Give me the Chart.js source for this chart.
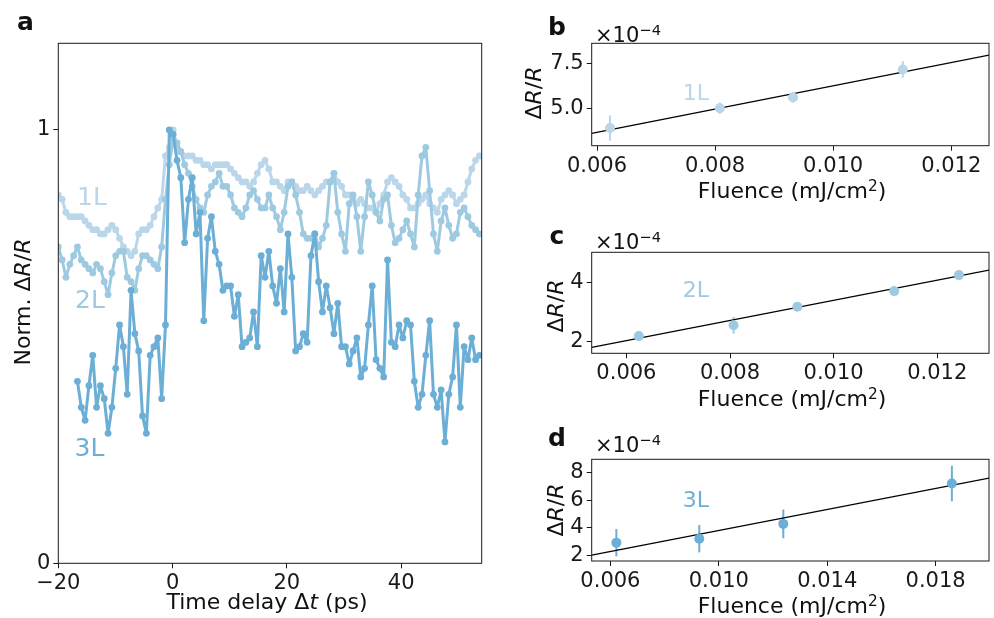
<!DOCTYPE html>
<html>
<head>
<meta charset="utf-8">
<script src="https://cdn.jsdelivr.net/npm/chart.js@4.4.1/dist/chart.umd.min.js"></script>
<style>
  html, body { margin: 0; padding: 0; background: #fff; }
  body { position: relative; width: 994px; height: 618px; overflow: hidden; font-family: 'DejaVu Sans', sans-serif; }
  canvas { position: absolute; }
  .t { position: absolute; transform: translate(-50%, -50%); white-space: nowrap; line-height: 1; color: #111; }
  .rot { transform: translate(-50%, -50%) rotate(-90deg); }
  .off { transform: translate(0, -50%); }
  .sup { font-size: 0.7em; position: relative; top: -0.45em; }
  .bold { font-weight: bold; }
</style>
</head>
<body>
<canvas id="chartA"></canvas>
<canvas id="chartB"></canvas>
<canvas id="chartC"></canvas>
<canvas id="chartD"></canvas>

<div class="t bold" style="left:25.5px;top:21px;font-size:25px">a</div>
<div class="t bold" style="left:557px;top:26px;font-size:25px">b</div>
<div class="t bold" style="left:557px;top:235px;font-size:25px">c</div>
<div class="t bold" style="left:557px;top:437px;font-size:25px">d</div>

<div class="t off" style="left:595px;top:35px;font-size:21px">×10<span class="sup">−4</span></div>
<div class="t off" style="left:595px;top:241.5px;font-size:21px">×10<span class="sup">−4</span></div>
<div class="t off" style="left:595px;top:445px;font-size:21px">×10<span class="sup">−4</span></div>

<div class="t" style="left:92px;top:196px;font-size:25px;color:#b9d6ea">1L</div>
<div class="t" style="left:90px;top:299px;font-size:25px;color:#9ecae1">2L</div>
<div class="t" style="left:89.5px;top:447px;font-size:25px;color:#6baed6">3L</div>
<div class="t" style="left:696px;top:93px;font-size:22px;color:#b9d6ea">1L</div>
<div class="t" style="left:696px;top:290px;font-size:22px;color:#9ecae1">2L</div>
<div class="t" style="left:696px;top:500px;font-size:22px;color:#6baed6">3L</div>

<div class="t" style="left:267px;top:602px;font-size:22px">Time delay Δ<i>t</i> (ps)</div>
<div class="t rot" style="left:22.5px;top:302px;font-size:22px">Norm. Δ<i>R</i>/<i>R</i></div>
<div class="t" style="left:792px;top:191px;font-size:22px">Fluence (mJ/cm<span class="sup">2</span>)</div>
<div class="t" style="left:792px;top:399px;font-size:22px">Fluence (mJ/cm<span class="sup">2</span>)</div>
<div class="t" style="left:792px;top:606px;font-size:22px">Fluence (mJ/cm<span class="sup">2</span>)</div>
<div class="t rot" style="left:534px;top:93px;font-size:22px">Δ<i>R</i>/<i>R</i></div>
<div class="t rot" style="left:556px;top:306px;font-size:22px">Δ<i>R</i>/<i>R</i></div>
<div class="t rot" style="left:556px;top:510px;font-size:22px">Δ<i>R</i>/<i>R</i></div>

<script>
// panel a: normalised transients vs delay (ps)
const delay = [-20, -19.33, -18.66, -17.99, -17.32, -16.65, -15.98, -15.31, -14.64, -13.97,
  -13.30, -12.63, -11.96, -11.29, -10.62, -9.95, -9.28, -8.61, -7.94, -7.27,
  -6.60, -5.93, -5.26, -4.59, -3.92, -3.25, -2.58, -1.91, -1.24, -0.57,
  0.10, 0.77, 1.44, 2.11, 2.78, 3.45, 4.12, 4.79, 5.46, 6.13,
  6.80, 7.47, 8.14, 8.81, 9.48, 10.15, 10.82, 11.49, 12.16, 12.83,
  13.50, 14.17, 14.84, 15.51, 16.18, 16.85, 17.52, 18.19, 18.86, 19.53,
  20.20, 20.87, 21.54, 22.21, 22.88, 23.55, 24.22, 24.89, 25.56, 26.23,
  26.90, 27.57, 28.24, 28.91, 29.58, 30.25, 30.92, 31.59, 32.26, 32.93,
  33.60, 34.27, 34.94, 35.61, 36.28, 36.95, 37.62, 38.29, 38.96, 39.63,
  40.30, 40.97, 41.64, 42.31, 42.98, 43.65, 44.32, 44.99, 45.66, 46.33,
  47.00, 47.67, 48.34, 49.01, 49.68, 50.35, 51.02, 51.69, 52.36, 53.03,
  53.70];

const norm1L = [0.85, 0.84, 0.81, 0.80, 0.80, 0.80, 0.80, 0.79, 0.78, 0.77,
  0.77, 0.76, 0.76, 0.77, 0.78, 0.77, 0.75, 0.73, 0.72, 0.71,
  0.72, 0.76, 0.77, 0.77, 0.78, 0.80, 0.82, 0.84, 0.94, 0.96,
  1.00, 0.96, 0.95, 0.94, 0.94, 0.94, 0.93, 0.93, 0.92, 0.92,
  0.91, 0.92, 0.92, 0.92, 0.92, 0.91, 0.90, 0.89, 0.88, 0.88,
  0.87, 0.88, 0.90, 0.92, 0.93, 0.91, 0.88, 0.88, 0.87, 0.86,
  0.88, 0.88, 0.87, 0.86, 0.86, 0.87, 0.86, 0.85, 0.86, 0.87,
  0.88, 0.88, 0.90, 0.88, 0.87, 0.85, 0.85, 0.84, 0.83, 0.84,
  0.83, 0.82, 0.82, 0.81, 0.83, 0.85, 0.88, 0.89, 0.88, 0.87,
  0.85, 0.84, 0.82, 0.82, 0.83, 0.84, 0.85, 0.83, 0.82, 0.81,
  0.84, 0.85, 0.86, 0.85, 0.83, 0.84, 0.85, 0.88, 0.91, 0.93,
  0.94];

const norm2L = [0.73, 0.70, 0.66, 0.69, 0.71, 0.73, 0.70, 0.69, 0.68, 0.67,
  0.69, 0.68, 0.65, 0.62, 0.67, 0.71, 0.72, 0.72, 0.66, 0.65,
  0.63, 0.68, 0.71, 0.71, 0.70, 0.69, 0.68, 0.73, 0.84, 0.92,
  0.98, 0.97, 0.95, 0.92, 0.90, 0.87, 0.84, 0.82, 0.81, 0.85,
  0.87, 0.88, 0.90, 0.87, 0.87, 0.85, 0.82, 0.81, 0.80, 0.82,
  0.85, 0.86, 0.84, 0.82, 0.82, 0.85, 0.82, 0.80, 0.77, 0.81,
  0.87, 0.88, 0.85, 0.81, 0.76, 0.75, 0.75, 0.76, 0.73, 0.75,
  0.78, 0.88, 0.90, 0.81, 0.76, 0.72, 0.83, 0.85, 0.80, 0.72,
  0.80, 0.88, 0.85, 0.81, 0.79, 0.84, 0.85, 0.78, 0.74, 0.75,
  0.77, 0.79, 0.76, 0.73, 0.85, 0.94, 0.96, 0.86, 0.76, 0.72,
  0.79, 0.82, 0.78, 0.75, 0.76, 0.81, 0.82, 0.80, 0.78, 0.77,
  0.76];

const norm3L = [null, null, null, null, null, 0.42, 0.36, 0.33, 0.41, 0.48,
  0.36, 0.41, 0.38, 0.30, 0.36, 0.45, 0.55, 0.50, 0.39, 0.63,
  0.53, 0.49, 0.34, 0.30, 0.48, 0.50, 0.52, 0.38, 0.55, 1.00,
  0.99, 0.93, 0.89, 0.74, 0.84, 0.89, 0.76, 0.81, 0.56, 0.75,
  0.80, 0.72, 0.69, 0.63, 0.64, 0.64, 0.57, 0.62, 0.50, 0.51,
  0.52, 0.58, 0.50, 0.71, 0.66, 0.72, 0.64, 0.60, 0.68, 0.58,
  0.76, 0.66, 0.49, 0.50, 0.53, 0.51, 0.71, 0.76, 0.65, 0.58,
  0.64, 0.59, 0.53, 0.60, 0.50, 0.50, 0.46, 0.49, 0.52, 0.43,
  0.45, 0.55, 0.64, 0.47, 0.45, 0.43, 0.70, 0.51, 0.50, 0.55,
  0.52, 0.56, 0.55, 0.42, 0.36, 0.39, 0.48, 0.56, 0.39, 0.36,
  0.40, 0.28, 0.39, 0.43, 0.55, 0.36, 0.50, 0.47, 0.52, 0.47,
  0.48];

const delayTicks = [-20, 0, 20, 40];
const normTicks = [0, 1];

// panels b-d: amplitude (x1e-4) vs fluence (mJ/cm2), with linear fits
const fluence1L = [0.00622, 0.00808, 0.00932, 0.01118];
const amp1L = [3.9, 5.0, 5.6, 7.15];
const err1L = [0.7, 0.32, 0.28, 0.46];
const fitX1L = [0.00591, 0.01264];
const fitY1L = [3.6, 7.95];

const fluence2L = [0.00624, 0.00807, 0.0093, 0.01117, 0.01242];
const amp2L = [2.19, 2.56, 3.18, 3.71, 4.25];
const err2L = [0.1, 0.28, 0.1, 0.08, 0.1];
const fitX2L = [0.00533, 0.0130];
const fitY2L = [1.81, 4.42];

const fluence3L = [0.00622, 0.00928, 0.01238, 0.0186];
const amp3L = [2.91, 3.2, 4.28, 7.23];
const err3L = [1.0, 1.0, 1.05, 1.3];
const fitX3L = [0.00531, 0.01997];
const fitY3L = [2.0, 7.63];

const fluenceTicksBC = [0.006, 0.008, 0.010, 0.012];
const fluenceTicksD = [0.006, 0.010, 0.014, 0.018];
const ampTicksB = [5.0, 7.5];
const ampTicksC = [2, 4];
const ampTicksD = [2, 4, 6, 8];

const COL1 = '#b9d6ea', COL2 = '#9ecae1', COL3 = '#6baed6';
const INK = '#1a1a1a';

Chart.defaults.font.family = "'DejaVu Sans', sans-serif";
Chart.defaults.color = INK;

const frame = {
  id: 'frame',
  afterDatasetsDraw(chart) {
    const { ctx, chartArea: a } = chart;
    ctx.save();
    ctx.strokeStyle = INK;
    ctx.lineWidth = 1;
    ctx.strokeRect(a.left, a.top, a.right - a.left, a.bottom - a.top);
    ctx.restore();
  }
};

const errorBars = {
  id: 'errorBars',
  beforeDatasetsDraw(chart) {
    const ctx = chart.ctx, xs = chart.scales.x, ys = chart.scales.y;
    chart.data.datasets.forEach(ds => {
      if (!ds.errors) return;
      ctx.save();
      ctx.strokeStyle = ds.backgroundColor;
      ctx.lineWidth = 2;
      ds.data.forEach((p, i) => {
        const px = xs.getPixelForValue(p.x);
        ctx.beginPath();
        ctx.moveTo(px, ys.getPixelForValue(p.y - ds.errors[i]));
        ctx.lineTo(px, ys.getPixelForValue(p.y + ds.errors[i]));
        ctx.stroke();
      });
      ctx.restore();
    });
  }
};

// canvas box + wanted plot area (page px) -> padding and axis sizes
function place(id, box, area) {
  const cv = document.getElementById(id);
  cv.width = box.w; cv.height = box.h;
  cv.style.left = box.x + 'px'; cv.style.top = box.y + 'px';
  return {
    ctx: cv.getContext('2d'),
    padding: { left: 0, top: area.top - box.y, right: box.x + box.w - area.right, bottom: 0 },
    yw: area.left - box.x,
    xh: box.y + box.h - area.bottom
  };
}

function axis(min, max, tickVals, fmt, fitSize) {
  return {
    type: 'linear', min, max,
    afterBuildTicks: s => { s.ticks = tickVals.map(v => ({ value: v })); },
    afterFit: fitSize,
    grid: { drawOnChartArea: false, drawTicks: true, tickLength: 5, color: INK, lineWidth: 1 },
    border: { display: false },
    ticks: { font: { size: 21 }, color: INK, padding: 3, maxRotation: 0, autoSkip: false, callback: fmt }
  };
}

function opts(L, x, y) {
  return {
    responsive: false, animation: false, devicePixelRatio: 1, events: [],
    layout: { padding: L.padding },
    plugins: { legend: { display: false }, title: { display: false }, tooltip: { enabled: false } },
    scales: { x, y }
  };
}

const minus = v => (v < 0 ? '\u2212' + Math.abs(v) : String(v));
const pts = (xs, ys) => xs.map((x, i) => ({ x, y: ys[i] }));

// panel a
const LA = place('chartA', { x: 0, y: 0, w: 492, h: 618 }, { left: 58.3, top: 43.3, right: 481.7, bottom: 563.3 });
const lineSet = (data, col) => ({
  data: pts(delay, data), showLine: true, borderColor: col, borderWidth: 3,
  borderJoinStyle: 'round', borderCapStyle: 'round',
  pointRadius: 3.4, pointBackgroundColor: col, pointBorderWidth: 0, tension: 0, spanGaps: false
});
new Chart(LA.ctx, {
  type: 'scatter',
  data: { datasets: [lineSet(norm3L, COL3), lineSet(norm2L, COL2), lineSet(norm1L, COL1)] },
  options: opts(LA,
    axis(-20, 54.1, delayTicks, minus, s => { s.height = LA.xh; }),
    axis(0, 1.2, normTicks, v => String(v), s => { s.width = LA.yw; })),
  plugins: [frame]
});

// panels b-d
function fluencePanel(id, box, area, fx, fy, err, col, fitX, fitY, xr, yr, xt, yt, yfmt) {
  const L = place(id, box, area);
  new Chart(L.ctx, {
    type: 'scatter',
    data: { datasets: [
      { data: pts(fx, fy), errors: err, backgroundColor: col, pointRadius: 5, pointBorderWidth: 0, showLine: false },
      { data: pts(fitX, fitY), showLine: true, borderColor: '#000', borderWidth: 1.2, pointRadius: 0 }
    ] },
    options: opts(L,
      axis(xr[0], xr[1], xt, v => v.toFixed(3), s => { s.height = L.xh; }),
      axis(yr[0], yr[1], yt, yfmt, s => { s.width = L.yw; })),
    plugins: [errorBars, frame]
  });
}

fluencePanel('chartB', { x: 500, y: 0, w: 494, h: 205 }, { left: 591.7, top: 43.3, right: 993, bottom: 145.7 },
  fluence1L, amp1L, err1L, COL1, fitX1L, fitY1L, [0.00591, 0.01264], [2.92, 8.61], fluenceTicksBC, ampTicksB, v => v.toFixed(1));
fluencePanel('chartC', { x: 500, y: 208, w: 494, h: 205 }, { left: 591.7, top: 252.3, right: 993, bottom: 353.3 },
  fluence2L, amp2L, err2L, COL2, fitX2L, fitY2L, [0.00533, 0.0130], [1.61, 5.02], fluenceTicksBC, ampTicksC, v => String(v));
fluencePanel('chartD', { x: 500, y: 414, w: 494, h: 204 }, { left: 591.7, top: 459.3, right: 993, bottom: 561 },
  fluence3L, amp3L, err3L, COL3, fitX3L, fitY3L, [0.00531, 0.01997], [1.57, 9.0], fluenceTicksD, ampTicksD, v => String(v));
</script>
</body>
</html>
